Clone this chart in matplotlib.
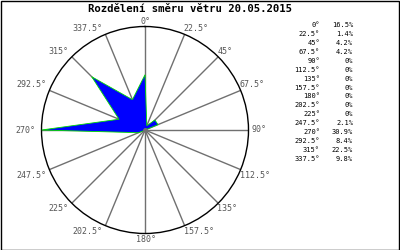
import numpy as np
import matplotlib
matplotlib.use("Agg")
import matplotlib.pyplot as plt
from matplotlib.patches import Rectangle

# wind direction distribution
directions = [0, 22.5, 45, 67.5, 90, 112.5, 135, 157.5, 180, 202.5, 225, 247.5, 270, 292.5, 315, 337.5]
percent = [16.5, 1.4, 4.2, 4.2, 0, 0, 0, 0, 0, 0, 0, 2.1, 30.9, 8.4, 22.5, 9.8]
pct_labels = ["16.5%", "1.4%", "4.2%", "4.2%", "0%", "0%", "0%", "0%", "0%", "0%", "0%",
              "2.1%", "30.9%", "8.4%", "22.5%", "9.8%"]
title = "Rozdělení směru větru 20.05.2015"

W, H = 400, 250
fig = plt.figure(figsize=(W / 100, H / 100), dpi=100)
fig.patch.set_facecolor("white")

# outer frame
fig.patches.append(Rectangle((0.5 / W, 0.5 / H), 1 - 1.5 / W, 1 - 1.5 / H, transform=fig.transFigure,
                             fill=False, edgecolor="black", linewidth=1))

cx, cy, r = 145, 130, 103.5
ax = fig.add_axes([(cx - r) / W, (H - cy - r) / H, 2 * r / W, 2 * r / H], projection="polar")
ax.set_theta_zero_location("N")
ax.set_theta_direction(-1)
rmax = max(percent)
ax.set_ylim(0, rmax)
ax.grid(False)
ax.set_yticks([])
ax.set_xticks([])
ax.spines["polar"].set_color("black")
ax.spines["polar"].set_linewidth(1)

theta = np.deg2rad(directions)
for t in theta:
    ax.plot([t, t], [0, rmax], color="#707070", lw=1, zorder=1)

tt = np.append(theta, theta[0])
rr = np.append(percent, percent[0])
ax.fill(tt, rr, facecolor="#0000ff", edgecolor="#00dd00", lw=0.6, zorder=3)
ax.plot([0], [0], "o", color="#707070", ms=2.5, zorder=4)

# direction labels around the circle
for d, t in zip(directions, theta):
    if d in (0, 180):
        ha, dx = "center", 1
    elif d < 180:
        ha, dx = "left", -1
    else:
        ha, dx = "right", -3
    if d in (90, 270):
        va, dy = "center", 0
        dx = 3 if d == 90 else -6
    elif d < 90 or d > 270:
        va, dy = "bottom", 1
    else:
        va, dy = "top", -1
    ax.annotate(f"{d:g}°", xy=(t, rmax), xytext=(dx, dy), textcoords="offset pixels",
                ha=ha, va=va, fontsize=6, color="#555555", family="DejaVu Sans Mono",
                annotation_clip=False)

fig.text(190 / W, 1 - 9.5 / H, title, ha="center", va="center", fontsize=7.7,
         fontweight="bold", family="DejaVu Sans Mono")

y0, dy = 25.3, 8.9
for i, (d, p) in enumerate(zip(directions, pct_labels)):
    y = 1 - (y0 + i * dy) / H
    fig.text(320 / W, y, f"{d:g}°", ha="right", va="center", fontsize=5, family="DejaVu Sans Mono")
    fig.text(353 / W, y, p, ha="right", va="center", fontsize=5, family="DejaVu Sans Mono")

fig.savefig("out.png", dpi=100)
